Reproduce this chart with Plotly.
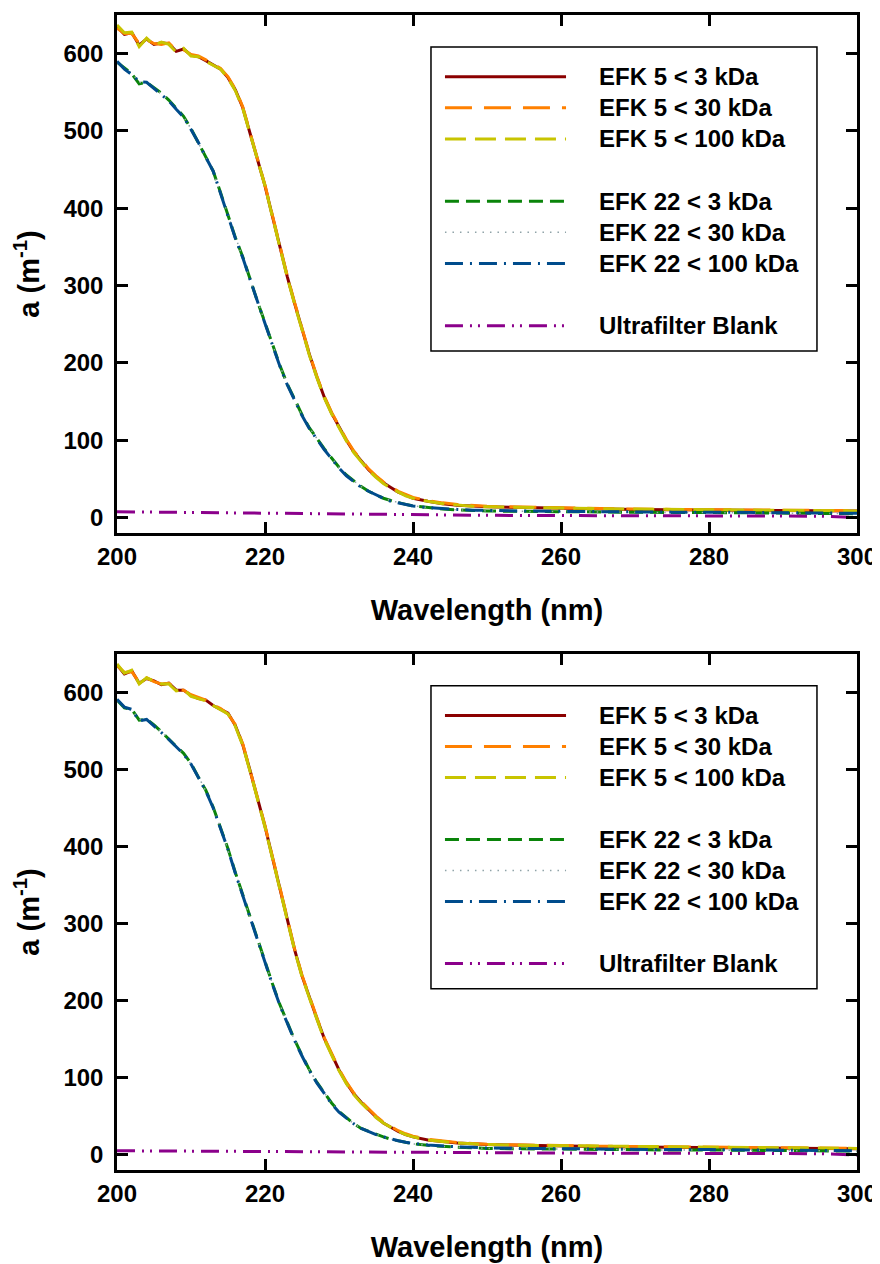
import plotly.graph_objects as go

# ---------------- data ----------------
wavelength = [200, 201, 202, 203, 204, 205, 206, 207, 208, 209, 210, 211, 212, 213, 214, 215,
              216, 217, 218, 219, 220, 221, 222, 223, 224, 225, 226, 227, 228, 229, 230, 231,
              232, 233, 234, 235, 236, 237, 238, 239, 240, 242, 244, 246, 248, 250, 255, 260,
              265, 270, 275, 280, 285, 290, 295, 300]

# top panel
top_efk5_3 = [635, 625, 627, 611, 619, 612, 614, 613, 603, 606, 598, 596, 591, 586, 580, 569,
              553, 530, 496, 462, 429, 390, 350, 312, 277, 243, 211, 182, 156, 135, 117, 100,
              85, 73, 62, 53, 45, 39, 33, 29, 25, 21, 18, 16, 15, 14, 13, 12,
              11, 10.5, 10, 10, 9.5, 9, 9, 8.5]
top_efk5_30 = [633, 626, 626, 613, 618, 613, 612, 614, 604, 605, 599, 597, 592, 587, 581, 570,
               554, 531, 497, 463, 430, 391, 351, 313, 278, 244, 212, 183, 157, 136, 118, 101,
               86, 74, 63, 54, 46, 40, 34, 30, 26, 22, 19, 17, 15.5, 14.5, 13.5, 12.5,
               11.5, 11, 10.5, 10, 10, 9.5, 9, 9]
top_efk5_100 = [637, 627, 628, 609, 620, 611, 615, 612, 602, 607, 597, 596, 590, 585, 580, 568,
                552, 529, 496, 462, 429, 389, 349, 311, 276, 242, 210, 181, 155, 134, 116, 99,
                84, 72, 61, 52, 44, 38, 33, 28, 25, 21, 18, 16, 14.5, 14, 13, 12,
                11.5, 11, 10.5, 10, 9.5, 9.5, 9, 8.5]
top_efk22_3 = [589, 581, 574, 561, 563, 556, 549, 540, 529, 519, 503, 484, 467, 448, 420, 392,
               362, 337, 307, 279, 252, 225, 197, 173, 152, 133, 116, 102, 89, 77, 65, 55,
               47, 40, 34, 29, 25, 22, 19, 17, 15, 13, 11, 10, 9, 8.5, 8, 7.5,
               7, 7, 6.5, 6.5, 6, 6, 5.5, 5]
top_efk22_30 = [588, 581, 575, 563, 562, 556, 548, 540, 530, 518, 503, 485, 466, 447, 420, 391,
                363, 336, 307, 280, 252, 224, 197, 172, 152, 132, 116, 102, 89, 77, 65, 55,
                47, 40, 34, 29, 25, 22, 19, 17, 15, 13, 11, 10, 9, 8.5, 8, 7.5,
                7, 7, 6.5, 6.5, 6, 6, 5.5, 5]
top_efk22_100 = [590, 580, 573, 564, 563, 555, 548, 539, 528, 518, 502, 485, 466, 448, 419, 391,
                 361, 336, 306, 279, 251, 224, 196, 172, 151, 132, 115, 101, 88, 76, 64, 54,
                 46, 39, 34, 29, 25, 21, 19, 16.5, 15, 13, 11.5, 10.5, 9.5, 9, 8.5, 8,
                 7.5, 7.5, 7, 7, 6.5, 6.5, 6, 5.5]

# bottom panel
bot_efk5_3 = [636, 624, 628, 612, 618, 615, 610, 612, 603, 603, 596, 592, 590, 583, 578, 573,
              557, 532, 498, 462, 426, 386, 346, 306, 266, 232, 203, 177, 151, 130, 110, 93,
              79, 68, 58, 49, 41, 35, 30, 26, 23, 19, 17, 15, 14, 13, 12, 11,
              10.5, 10, 9.5, 9, 9, 8.5, 8, 7.5]
bot_efk5_30 = [635, 626, 627, 613, 619, 614, 611, 612, 604, 603, 597, 593, 590, 584, 579, 572,
               558, 533, 499, 463, 427, 387, 347, 307, 267, 233, 204, 178, 152, 131, 111, 94,
               80, 69, 59, 50, 42, 36, 31, 27, 24, 20, 17.5, 15.5, 14.5, 13.5, 12.5, 11.5,
               11, 10.5, 10, 9.5, 9.5, 9, 8.5, 8]
bot_efk5_100 = [637, 625, 629, 611, 619, 615, 611, 611, 602, 604, 595, 592, 589, 583, 577, 572,
                556, 531, 497, 461, 425, 385, 345, 305, 265, 231, 202, 176, 150, 129, 109, 92,
                78, 67, 57, 48, 41, 35, 30, 26, 23, 19, 17, 15, 14, 13, 12, 11.5,
                11, 10.5, 10, 9.5, 9, 9, 8.5, 8]
bot_efk22_3 = [590, 580, 578, 564, 565, 558, 549, 539, 530, 521, 508, 490, 473, 451, 425, 397,
               366, 337, 307, 280, 251, 222, 195, 171, 149, 129, 110, 94, 80, 67, 56, 48,
               40, 34, 30, 26, 23, 20, 18, 16, 14, 12, 10.5, 9.5, 9, 8, 7.5, 7,
               6.5, 6.5, 6, 6, 5.5, 5.5, 5, 4.5]
bot_efk22_30 = [589, 580, 577, 565, 564, 557, 549, 540, 530, 520, 507, 491, 472, 450, 424, 396,
                366, 336, 307, 280, 251, 222, 195, 170, 149, 129, 110, 94, 80, 67, 56, 48,
                40, 34, 30, 26, 23, 20, 18, 16, 14, 12, 10.5, 9.5, 9, 8, 7.5, 7,
                6.5, 6.5, 6, 6, 5.5, 5.5, 5, 4.5]
bot_efk22_100 = [591, 581, 578, 563, 565, 557, 548, 539, 529, 520, 507, 489, 472, 450, 424, 396,
                 365, 336, 306, 279, 250, 221, 194, 170, 148, 128, 109, 93, 79, 66, 55, 47,
                 40, 34, 29.5, 26, 23, 20, 18, 16, 14.5, 12.5, 11, 10, 9.5, 8.5, 8, 7.5,
                 7, 7, 6.5, 6.5, 6, 6, 5.5, 5]

blank_wavelength = [200, 210, 220, 230, 240, 250, 260, 270, 280, 290, 295, 300]
top_blank = [7.5, 6.5, 5.4, 4.4, 3.4, 2.9, 2.6, 2.4, 2.3, 2.1, 1.8, 0.0]
bot_blank = [5.0, 4.4, 3.8, 3.2, 2.6, 2.2, 2.0, 1.8, 1.7, 1.5, 1.2, -0.5]

series_names = ["EFK 5 < 3 kDa", "EFK 5 < 30 kDa", "EFK 5 < 100 kDa",
                "EFK 22 < 3 kDa", "EFK 22 < 30 kDa", "EFK 22 < 100 kDa",
                "Ultrafilter Blank"]

x_ticks = [200, 220, 240, 260, 280, 300]
y_ticks = [0, 100, 200, 300, 400, 500, 600]

# ---------------- styles ----------------
colors = ["#8B0000", "#FF8000", "#C8C400", "#0A840A", "#8FA3A8", "#004C8C", "#8B008B"]
dashes = ["solid", "27px,12px", "21px,9px", "14px,7px", "1.5px,6px",
          "18px,7px,2px,7px", "18px,7px,2px,6px,2px,7px"]
widths = [3, 3, 3, 3, 1.5, 3, 3]
legend_rows = [0, 1, 2, 4, 5, 6, 8]

FONT = "Liberation Sans, Arial, sans-serif"

fig = go.Figure()

panels = [
    ("x", "y", [top_efk5_3, top_efk5_30, top_efk5_100, top_efk22_3, top_efk22_30, top_efk22_100], top_blank),
    ("x2", "y2", [bot_efk5_3, bot_efk5_30, bot_efk5_100, bot_efk22_3, bot_efk22_30, bot_efk22_100], bot_blank),
]

for xa, ya, ys, blank in panels:
    for i, yv in enumerate(ys):
        fig.add_trace(go.Scatter(x=wavelength, y=yv, mode="lines", name=series_names[i],
                                 xaxis=xa, yaxis=ya, showlegend=False,
                                 line=dict(color=colors[i], dash=dashes[i], width=widths[i])))
    fig.add_trace(go.Scatter(x=blank_wavelength, y=blank, mode="lines", name=series_names[6],
                             xaxis=xa, yaxis=ya, showlegend=False,
                             line=dict(color=colors[6], dash=dashes[6], width=widths[6])))

# ---------------- custom legends ----------------
shapes = []
annotations = []
row_top = 0.8809
row_step = 0.0601
for xa, ya in [("x", "y"), ("x2", "y2")]:
    xr = xa + " domain"
    yr = ya + " domain"
    shapes.append(dict(type="rect", xref=xr, yref=yr, x0=0.4243, x1=0.9459, y0=0.3514, y1=0.9382,
                       line=dict(color="black", width=1.5), fillcolor="white", layer="below"))
    for i, name in enumerate(series_names):
        yy = row_top - legend_rows[i] * row_step
        shapes.append(dict(type="line", xref=xr, yref=yr, x0=0.4432, x1=0.6068, y0=yy, y1=yy,
                           line=dict(color=colors[i], dash=dashes[i], width=widths[i])))
        annotations.append(dict(xref=xr, yref=yr, x=0.6486, y=yy, text=name, showarrow=False,
                                xanchor="left", yanchor="middle",
                                font=dict(family=FONT, size=24, color="black", weight="bold")))

axis_common = dict(showline=True, linecolor="black", linewidth=2.5, mirror="ticks",
                   ticks="inside", ticklen=11, tickwidth=2.5, tickcolor="black",
                   showgrid=False, zeroline=False, automargin=False,
                   tickfont=dict(family=FONT, size=24, color="black", weight="bold"))

xaxis_cfg = dict(axis_common, range=[200, 300], tickvals=x_ticks, ticklabelstandoff=0,
                 title=dict(text="Wavelength (nm)", standoff=32,
                            font=dict(family=FONT, size=29, color="black", weight="bold")))
yaxis_cfg = dict(axis_common, range=[-20, 650], tickvals=y_ticks, ticklabelstandoff=6,
                 title=dict(text="a (m<sup>-1</sup>)", standoff=16,
                            font=dict(family=FONT, size=29, color="black", weight="bold")))

# the page adds an 8 px body margin, so the figure is sized to fit 880x1264 from (8, 8)
fig.update_layout(
    template="none",
    width=872, height=1256,
    margin=dict(l=109, r=23, t=7, b=94),
    paper_bgcolor="white", plot_bgcolor="white",
    showlegend=False,
    xaxis=dict(xaxis_cfg, domain=[0, 1], anchor="y"),
    yaxis=dict(yaxis_cfg, domain=[0.5515, 1.0], anchor="x"),
    xaxis2=dict(xaxis_cfg, domain=[0, 1], anchor="y2"),
    yaxis2=dict(yaxis_cfg, domain=[0.0, 0.4468], anchor="x2"),
    shapes=shapes,
    annotations=annotations,
)

fig.write_html("out.html")
